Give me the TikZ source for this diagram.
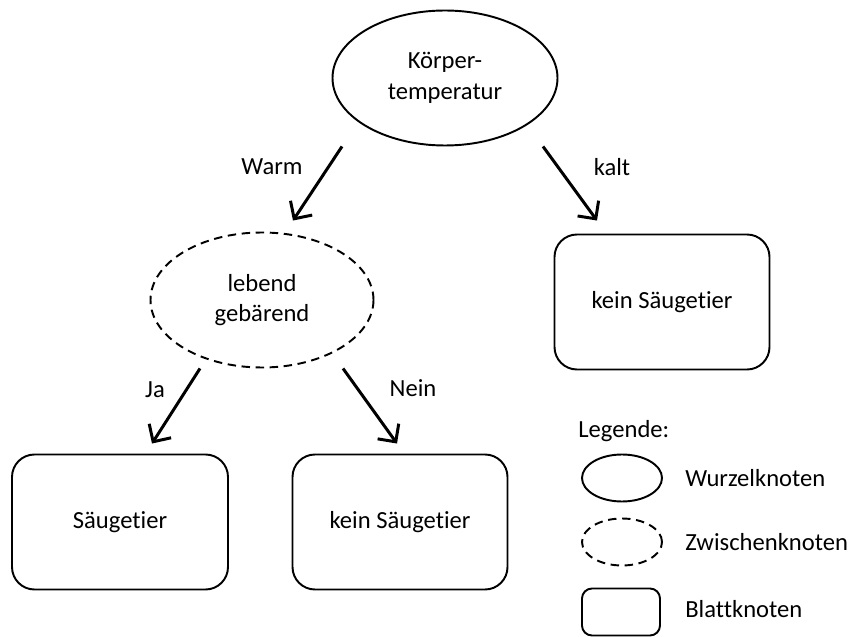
\documentclass[tikz,border=0pt]{standalone}
\usepackage{fontspec}
\setmainfont{Carlito}[Ligatures=NoCommon]
\usepackage{tikz}
\usetikzlibrary{arrows.meta, shapes.geometric}

\begin{document}
\begin{tikzpicture}[every node/.style={font=\fontsize{14}{17.5}\selectfont, align=center},
    wurzel/.style={ellipse, draw, line width=1.1pt, inner sep=0pt},
    zwischen/.style={ellipse, draw, line width=1.1pt, dash pattern=on 4.8pt off 3.2pt, inner sep=0pt},
    blatt/.style={rectangle, rounded corners=0.45cm, draw, line width=1.1pt, inner sep=0pt},
    kante/.style={line width=1.7pt, -{Straight Barb[length=2.6mm, width=5.2mm, line width=1.7pt]}}]
\useasboundingbox (0,0) rectangle (17.12,-12.74);
% Baum
\node[wurzel, minimum width=4.5cm, minimum height=2.7cm] (root) at (8.9,-1.56) {K\"orper-\\temperatur};
\node[zwischen, minimum width=4.46cm, minimum height=2.7cm] (mid) at (5.24,-6.0) {lebend\\geb\"arend};
\node[blatt, minimum width=4.3cm, minimum height=2.7cm] (kalt) at (13.24,-6.04) {kein S\"augetier};
\node[blatt, minimum width=4.32cm, minimum height=2.7cm] (ja) at (2.4,-10.44) {S\"augetier};
\node[blatt, minimum width=4.3cm, minimum height=2.7cm] (nein) at (8.0,-10.44) {kein S\"augetier};
% Kanten
\foreach \a/\ax/\b/\bx/\by in {root.south/-2.06/mid.north/0.62/0.22,
    root.south/1.96/kalt.north/-1.3/0.26,
    mid.south/-1.24/ja.north/0.64/0.2,
    mid.south/1.62/nein.north/-0.06/0.2} {
    \draw[kante] ([xshift=\ax cm]\a) -- ([xshift=\bx cm, yshift=\by cm]\b);
}
\node (lw) at (5.44,-3.34) {Warm};
\node (lk) at (12.24,-3.34) {kalt};
\node (lj) at (3.1,-7.8) {Ja};
\node (ln) at (8.26,-7.76) {Nein};
% Legende
\node[anchor=west, inner sep=0pt] (leg) at (11.56,-8.62) {Legende:};
\node[wurzel, minimum width=1.6cm, minimum height=0.94cm] (lg1) at (12.44,-9.56) {};
\node[zwischen, minimum width=1.6cm, minimum height=0.94cm] (lg2) at (12.44,-10.84) {};
\node[blatt, rounded corners=0.2cm, minimum width=1.56cm, minimum height=0.94cm] (lg3) at (12.42,-12.24) {};
\node[anchor=west, inner sep=0pt] (t1) at (13.7,-9.56) {Wurzelknoten};
\node[anchor=west, inner sep=0pt] (t2) at (13.7,-10.84) {Zwischenknoten};
\node[anchor=west, inner sep=0pt] (t3) at (13.7,-12.18) {Blattknoten};
\end{tikzpicture}
\end{document}
